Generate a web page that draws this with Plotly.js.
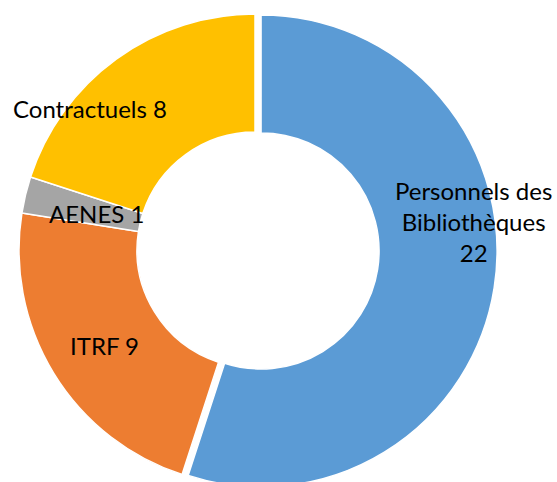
<!DOCTYPE html>
<html>
<head>
<meta charset="utf-8">
<script src="https://cdn.plot.ly/plotly-3.0.1.min.js"></script>
<style>
html,body{margin:0;padding:0;overflow:hidden;background:#fff;}
#chart{width:557px;height:520px;}
</style>
</head>
<body>
<div id="chart"></div>
<script>
// Data
const categories = ["Personnels des Bibliothèques", "ITRF", "AENES", "Contractuels"];
const values = [22, 9, 1, 8];
const labelLines = [["Personnels des", "Bibliothèques", "22"], ["ITRF 9"], ["AENES 1"], ["Contractuels 8"]];
const colors = ["#5B9BD5", "#ED7D31", "#A5A5A5", "#FFC000"];
const pulls = [0.026, 0, 0, 0];

// Layout constants (pixels)
const W = 557, H = 520;
const cx = 255, cy = 250, R = 236;
const maxPull = Math.max(...pulls);
const Reff = R * (1 + maxPull);
const labelPos = [[473, 221], [104, 345], [96, 213], [90, 108]];

const annotations = categories.map((c, i) => ({
  xref: "paper", yref: "paper",
  x: labelPos[i][0] / W, y: (H - labelPos[i][1]) / H,
  xanchor: "center", yanchor: "middle",
  text: labelLines[i].join("<br>"),
  showarrow: false,
  font: {family: "Lato, 'Liberation Sans', sans-serif", size: 24, color: "#000"}
}));

const trace = {
  type: "pie",
  labels: categories,
  values: values,
  hole: 0.5,
  sort: false,
  direction: "clockwise",
  rotation: 0,
  pull: pulls,
  marker: {colors: colors, line: {color: "#fff", width: 1.5}},
  textinfo: "none",
  hoverinfo: "label+value",
  showlegend: false,
  domain: {
    x: [(cx - Reff) / W, (cx + Reff) / W],
    y: [(H - cy - Reff) / H, (H - cy + Reff) / H]
  }
};

Plotly.newPlot("chart", [trace], {
  width: W, height: H,
  margin: {l: 0, r: 0, t: 0, b: 0},
  paper_bgcolor: "#fff",
  showlegend: false,
  annotations: annotations
}, {staticPlot: true});
</script>
</body>
</html>
